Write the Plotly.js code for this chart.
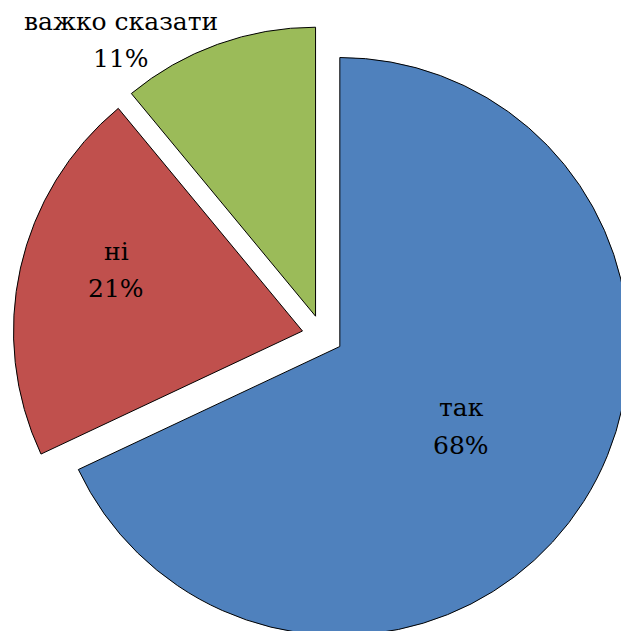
<!DOCTYPE html>
<html>
<head>
<meta charset="utf-8">
<script src="https://cdn.plot.ly/plotly-3.0.1.min.js"></script>
<style>
  html, body { margin: 0; padding: 0; width: 621px; height: 631px; overflow: hidden; background: #fff; }
  #chart { position: absolute; left: 0px; top: 0px; width: 632px; height: 645px; }
</style>
</head>
<body>
<div id="chart"></div>
<script>
const labels = ["так", "ні", "важко сказати"];
const values = [68, 21, 11];
const colors = ["#4F81BD", "#C0504D", "#9BBB59"];
// label line centres on the page (pixels): [x, y of name line, y of percent line]
const labelPos = [[461, 407, 445], [116, 251, 288], [121, 21, 58]];

const W = 632, H = 645;
const PL = 13, PT = 26, PS = 619;
const toPaperX = px => px / W;
const toPaperY = py => 1 - py / H;
const FONT = { family: "DejaVu Serif", size: 25, color: "#000" };

const trace = {
  type: "pie",
  labels: labels,
  values: values,
  sort: false,
  direction: "clockwise",
  rotation: 0,
  pull: [0.071, 0.071, 0.071],
  domain: { x: [PL / W, (PL + PS) / W], y: [1 - (PT + PS) / H, 1 - PT / H] },
  marker: { colors: colors, line: { color: "#000000", width: 1 } },
  textinfo: "none",
  hoverinfo: "label+percent",
  showlegend: false
};

const annotations = [];
labels.forEach((lab, i) => {
  annotations.push({
    xref: "paper", yref: "paper",
    x: toPaperX(labelPos[i][0]), y: toPaperY(labelPos[i][1]),
    xanchor: "center", yanchor: "middle",
    text: lab, showarrow: false, font: FONT
  });
  annotations.push({
    xref: "paper", yref: "paper",
    x: toPaperX(labelPos[i][0]), y: toPaperY(labelPos[i][2]),
    xanchor: "center", yanchor: "middle",
    text: values[i] + "%", showarrow: false, font: FONT
  });
});

Plotly.newPlot("chart", [trace], {
  width: W, height: H,
  font: { family: "DejaVu Serif" },
  margin: { l: 0, r: 0, t: 0, b: 0, pad: 0 },
  paper_bgcolor: "rgba(0,0,0,0)",
  plot_bgcolor: "rgba(0,0,0,0)",
  showlegend: false,
  annotations: annotations
}, { displayModeBar: false, staticPlot: true });
</script>
</body>
</html>
